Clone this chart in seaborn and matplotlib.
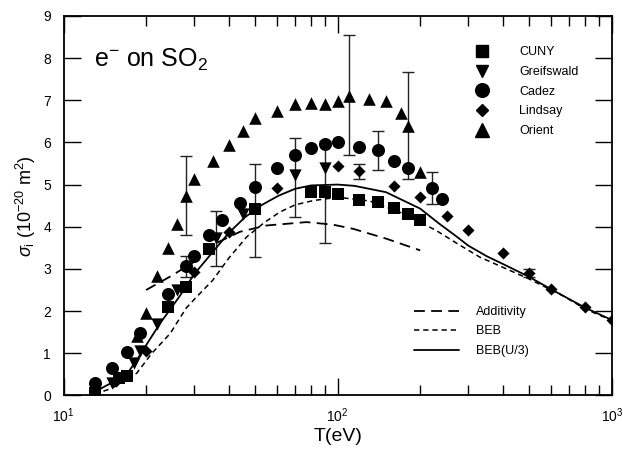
"""
Electron-impact ionization cross section of SO2: measurements vs. theory.
"""

import matplotlib
matplotlib.use('Agg')
import matplotlib.pyplot as plt
from matplotlib.lines import Line2D
import seaborn as sns
import numpy as np

# ============================================
# DATA
# ============================================

# experiments: energy T (eV) and cross section (1e-20 m^2)
cuny_T = [13, 16, 17, 24, 28, 34, 50, 80, 90, 100, 120, 140, 160, 180, 200]
cuny_sig = [0.07, 0.41, 0.46, 2.09, 2.58, 3.48, 4.41, 4.82, 4.83, 4.78, 4.64, 4.58, 4.44, 4.31, 4.15]

greif_T = [13, 15, 18, 19, 22, 26, 36, 45, 70, 90]
greif_sig = [0.05, 0.30, 0.76, 1.05, 1.69, 2.50, 3.74, 4.30, 5.22, 5.40]

cadez_T = [13, 15, 17, 19, 24, 28, 30, 34, 38, 44, 50, 60, 70, 80, 90, 100,
           120, 140, 160, 180, 220, 240]
cadez_sig = [0.29, 0.65, 1.04, 1.47, 2.40, 3.06, 3.30, 3.80, 4.17, 4.56, 4.94,
             5.39, 5.69, 5.87, 5.97, 6.00, 5.90, 5.82, 5.57, 5.40, 4.92, 4.66]

lindsay_T = [15.5, 20, 30, 40, 60, 100, 120, 160, 200, 250, 300, 400, 500, 600, 800, 1000]
lindsay_sig = [0.35, 1.06, 2.93, 3.87, 4.92, 5.45, 5.31, 4.96, 4.70, 4.25, 3.93,
               3.38, 2.91, 2.53, 2.09, 1.78]

orient_T = [18.5, 20, 22, 24, 26, 28, 30, 35, 40, 45, 50, 60, 70, 80, 90, 100,
            110, 130, 150, 170, 180, 200]
orient_sig = [1.40, 1.96, 2.83, 3.50, 4.07, 4.74, 5.14, 5.57, 5.95, 6.28, 6.58,
              6.75, 6.91, 6.93, 6.91, 6.97, 7.09, 7.04, 6.99, 6.69, 6.40, 5.29]

# error bars: position and half-width
err_T = [28, 28, 36, 50, 70, 90, 110, 120, 140, 180, 220, 500]
err_sig = [3.06, 4.74, 3.72, 4.38, 5.17, 4.83, 7.12, 5.31, 5.80, 6.41, 4.91, 2.91]
err_half = [0.25, 0.94, 0.65, 1.10, 0.93, 1.21, 1.43, 0.17, 0.46, 1.27, 0.38, 0.10]

# theory curves
add_T = [20, 24.5, 30, 36, 44, 55, 77, 96, 114, 150, 200]
add_sig = [2.50, 2.82, 3.17, 3.61, 3.88, 4.03, 4.11, 4.05, 3.95, 3.72, 3.44]

beb_T = [13, 15, 17, 18.5, 21, 24.5, 28, 30.6, 35, 40, 46.6, 54, 61.6, 70, 81.4,
         100, 131, 174, 229, 270, 330, 400, 500, 665, 800, 1000]
beb_sig = [0.03, 0.17, 0.37, 0.53, 1.0, 1.47, 2.07, 2.34, 2.73, 3.25, 3.76, 4.10,
           4.35, 4.52, 4.62, 4.70, 4.61, 4.31, 3.91, 3.62, 3.28, 3.04, 2.76,
           2.36, 2.05, 1.78]

bebu3_T = [12.4, 14, 15.6, 17, 18.5, 20.5, 22.5, 26.5, 30, 35, 40, 46, 53, 61,
           70, 80, 100, 115, 150, 200, 235, 270, 300, 350, 400, 500, 600, 800, 1000]
bebu3_sig = [0.0, 0.20, 0.36, 0.50, 0.84, 1.30, 1.71, 2.35, 2.88, 3.40, 3.85,
             4.23, 4.52, 4.74, 4.90, 4.98, 5.0, 4.97, 4.82, 4.43, 4.07, 3.78,
             3.55, 3.30, 3.12, 2.81, 2.52, 2.08, 1.79]

# ============================================
# STYLE
# ============================================
sns.set_style("ticks", {'axes.edgecolor': 'black', 'xtick.color': 'black',
                        'ytick.color': 'black', 'text.color': 'black',
                        'axes.labelcolor': 'black'})
plt.rcParams['font.family'] = ['Liberation Sans', 'DejaVu Sans']
plt.rcParams['mathtext.fontset'] = 'custom'
plt.rcParams['mathtext.rm'] = 'Liberation Sans'
plt.rcParams['mathtext.it'] = 'Liberation Sans:italic'
plt.rcParams['mathtext.bf'] = 'Liberation Sans:bold'

fig = plt.figure(figsize=(6.23, 4.53), dpi=100)
ax = fig.add_axes([0.102, 0.127, 0.880, 0.838])

# ============================================
# PLOT
# ============================================
ax.errorbar(err_T, err_sig, yerr=err_half, fmt='none', ecolor='#222222',
            elinewidth=1.0, capsize=4, capthick=1.0, zorder=1)

series = [
    (cuny_T, cuny_sig, 's', 75, 'CUNY'),
    (greif_T, greif_sig, 'v', 78, 'Greifswald'),
    (cadez_T, cadez_sig, 'o', 88, 'Cadez'),
    (lindsay_T, lindsay_sig, 'D', 38, 'Lindsay'),
    (orient_T, orient_sig, '^', 82, 'Orient'),
]
for T, sig, mk, size, name in series:
    sns.scatterplot(x=T, y=sig, ax=ax, marker=mk, s=size, color='black',
                    edgecolor='black', linewidth=0, zorder=3)

sns.lineplot(x=add_T, y=add_sig, ax=ax, color='black', lw=1.3,
             linestyle=(0, (6, 3.5)), zorder=2)
sns.lineplot(x=beb_T, y=beb_sig, ax=ax, color='black', lw=1.1,
             linestyle=(0, (3.5, 2.5)), zorder=2)
sns.lineplot(x=bebu3_T, y=bebu3_sig, ax=ax, color='black', lw=1.3, zorder=2)

ax.set_xscale('log')
ax.set_xlim(10, 1000)
ax.set_ylim(0, 9)
ax.set_yticks(range(0, 10))
ax.set_xlabel('T(eV)', fontsize=14, labelpad=2)
ax.set_ylabel(r'$\sigma_{\rm i}$ (10$^{-20}$ m$^2$)', fontsize=13, labelpad=4)
ax.tick_params(which='both', direction='in', top=True, right=True,
               labelsize=10, width=1)
ax.tick_params(axis='x', which='major', pad=8)
ax.tick_params(axis='y', which='major', pad=9)
ax.tick_params(which='major', length=12)
ax.tick_params(which='minor', length=7)
for sp in ax.spines.values():
    sp.set_linewidth(1.3)

ax.text(0.055, 0.885, r'e$^{-}$ on SO$_2$', transform=ax.transAxes,
        fontsize=18, ha='left', va='center')

# legends
mk_handles = [Line2D([], [], ls='none', marker=mk, color='black',
                     markersize=np.sqrt(size) * 1.05, label=name)
              for _, _, mk, size, name in series]
leg1 = ax.legend(handles=mk_handles, loc='upper left',
                 bbox_to_anchor=(0.751, 0.92), frameon=False, fontsize=9,
                 handlelength=1.0, handletextpad=2.5, labelspacing=0.62,
                 borderpad=0, borderaxespad=0)
ax.add_artist(leg1)

ln_handles = [
    Line2D([], [], color='black', lw=1.3, ls=(0, (6, 3.5)), label='Additivity'),
    Line2D([], [], color='black', lw=1.1, ls=(0, (3.5, 2.5)), label='BEB'),
    Line2D([], [], color='black', lw=1.3, label='BEB(U/3)'),
]
ax.legend(handles=ln_handles, loc='upper left', bbox_to_anchor=(0.64, 0.236),
          frameon=False, fontsize=9, handlelength=3.6, handletextpad=1.3,
          labelspacing=0.6, borderpad=0, borderaxespad=0)

fig.savefig('out.png', dpi=100, facecolor='white')
plt.close(fig)
